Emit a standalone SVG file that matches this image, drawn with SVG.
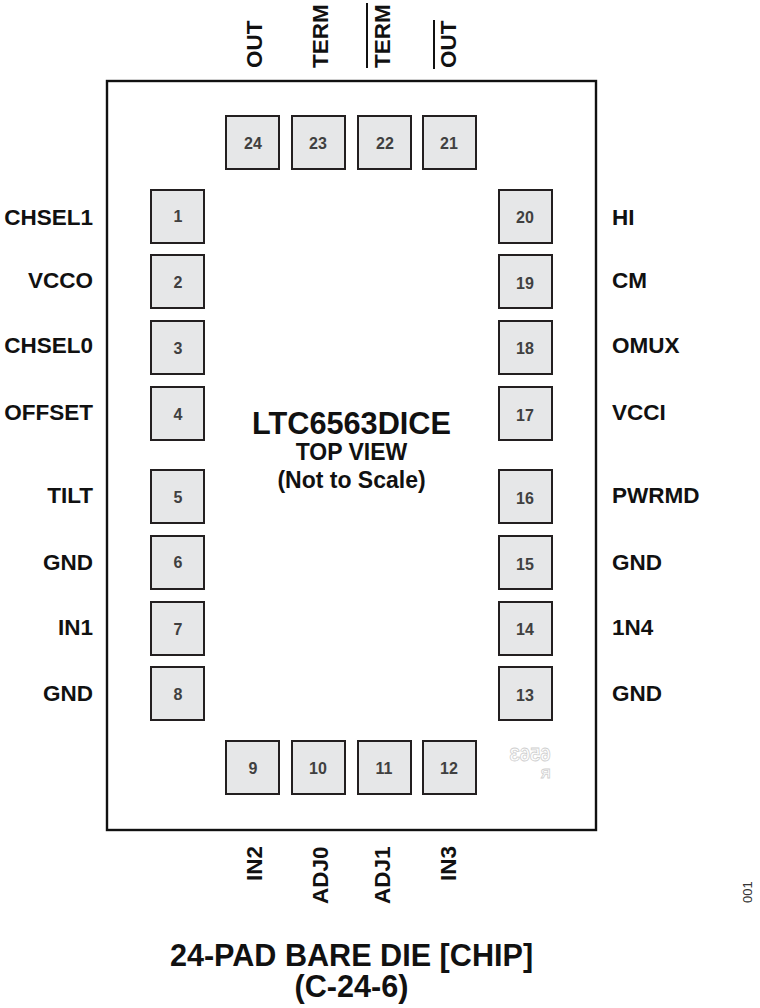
<svg xmlns="http://www.w3.org/2000/svg" width="760" height="1008" viewBox="0 0 760 1008">
<style>
text{font-family:"Liberation Sans",Arial,sans-serif;font-weight:bold}
.pad{fill:#e6e7e8;stroke:#231f20;stroke-width:2}
.num{font-size:16px;fill:#404040;text-anchor:middle}
.lab{font-size:22.5px;fill:#111}
.l{text-anchor:end}
.c{font-size:23px;fill:#111;text-anchor:middle}
.bar{stroke:#111;stroke-width:2}
.mark{font-size:18.500px;fill:#fff;stroke:#cfcfcf;stroke-width:.8}
</style>
<rect id="die" x="107" y="81" width="489" height="749" fill="#fff" stroke="#111" stroke-width="2.4"/>
<g id="connectors"></g>
<g id="pad1"><rect class="pad" x="151" y="190" width="53" height="53"/><text class="num" x="178" y="222">1</text><text class="lab l" x="93" y="225">CHSEL1</text></g>
<g id="pad2"><rect class="pad" x="151" y="255" width="53" height="53"/><text class="num" x="178" y="288">2</text><text class="lab l" x="93" y="288">VCCO</text></g>
<g id="pad3"><rect class="pad" x="151" y="321" width="53" height="53"/><text class="num" x="178" y="354">3</text><text class="lab l" x="93" y="353">CHSEL0</text></g>
<g id="pad4"><rect class="pad" x="151" y="387" width="53" height="53"/><text class="num" x="178" y="420">4</text><text class="lab l" x="93" y="420">OFFSET</text></g>
<g id="pad5"><rect class="pad" x="151" y="470" width="53" height="53"/><text class="num" x="178" y="503">5</text><text class="lab l" x="93" y="503">TILT</text></g>
<g id="pad6"><rect class="pad" x="151" y="536" width="53" height="53"/><text class="num" x="178" y="568">6</text><text class="lab l" x="93" y="570">GND</text></g>
<g id="pad7"><rect class="pad" x="151" y="602" width="53" height="53"/><text class="num" x="178" y="635">7</text><text class="lab l" x="93" y="635">IN1</text></g>
<g id="pad8"><rect class="pad" x="151" y="667" width="53" height="53"/><text class="num" x="178" y="700">8</text><text class="lab l" x="93" y="701">GND</text></g>
<g id="pad9"><rect class="pad" x="226" y="741" width="53" height="53"/><text class="num" x="253" y="774">9</text><text class="lab" transform="translate(262 881) rotate(-90)">IN2</text></g>
<g id="pad10"><rect class="pad" x="292" y="741" width="53" height="53"/><text class="num" x="318" y="774">10</text><text class="lab" transform="translate(328 904) rotate(-90)">ADJ0</text></g>
<g id="pad11"><rect class="pad" x="358" y="741" width="53" height="53"/><text class="num" x="384" y="774">11</text><text class="lab" transform="translate(390 904) rotate(-90)">ADJ1</text></g>
<g id="pad12"><rect class="pad" x="423" y="741" width="53" height="53"/><text class="num" x="449" y="774">12</text><text class="lab" transform="translate(456 881) rotate(-90)">IN3</text></g>
<g id="pad13"><rect class="pad" x="499" y="667" width="53" height="53"/><text class="num" x="525" y="701">13</text><text class="lab" x="612" y="701">GND</text></g>
<g id="pad14"><rect class="pad" x="499" y="602" width="53" height="53"/><text class="num" x="525" y="635">14</text><text class="lab" x="612" y="635">1N4</text></g>
<g id="pad15"><rect class="pad" x="499" y="536" width="53" height="53"/><text class="num" x="525" y="570">15</text><text class="lab" x="612" y="570">GND</text></g>
<g id="pad16"><rect class="pad" x="499" y="470" width="53" height="53"/><text class="num" x="525" y="504">16</text><text class="lab" x="612" y="503">PWRMD</text></g>
<g id="pad17"><rect class="pad" x="499" y="387" width="53" height="53"/><text class="num" x="525" y="421">17</text><text class="lab" x="612" y="420">VCCI</text></g>
<g id="pad18"><rect class="pad" x="499" y="321" width="53" height="53"/><text class="num" x="525" y="354">18</text><text class="lab" x="612" y="353">OMUX</text></g>
<g id="pad19"><rect class="pad" x="499" y="255" width="53" height="53"/><text class="num" x="525" y="289">19</text><text class="lab" x="612" y="288">CM</text></g>
<g id="pad20"><rect class="pad" x="499" y="190" width="53" height="53"/><text class="num" x="525" y="223">20</text><text class="lab" x="612" y="225">HI</text></g>
<g id="pad21"><rect class="pad" x="423" y="116" width="53" height="53"/><text class="num" x="449" y="149">21</text><text class="lab" transform="translate(456 68) rotate(-90)">OUT</text><line class="bar" x1="434" y1="20" x2="434" y2="69"/></g>
<g id="pad22"><rect class="pad" x="358" y="116" width="53" height="53"/><text class="num" x="385" y="149">22</text><text class="lab" transform="translate(390 68) rotate(-90)">TERM</text><line class="bar" x1="367" y1="3" x2="367" y2="68"/></g>
<g id="pad23"><rect class="pad" x="292" y="116" width="53" height="53"/><text class="num" x="318" y="149">23</text><text class="lab" transform="translate(328 68) rotate(-90)">TERM</text></g>
<g id="pad24"><rect class="pad" x="226" y="116" width="53" height="53"/><text class="num" x="253" y="149">24</text><text class="lab" transform="translate(262 68) rotate(-90)">OUT</text></g>
<text x="351.500" y="434" text-anchor="middle" font-size="30.700" fill="#111">LTC6563DICE</text>
<text class="c" x="351.500" y="460">TOP VIEW</text>
<text class="c" x="351.500" y="488">(Not to Scale)</text>
<text class="mark" transform="translate(550.500 761) scale(-1 1)">6563</text>
<text class="mark" transform="translate(550.500 777.500) scale(-1 1)" style="font-size:13.500px">R</text>
<text transform="translate(752 903) rotate(-90)" font-size="13" fill="#333" style="font-weight:normal">001</text>
<text x="351.500" y="966" text-anchor="middle" font-size="30.600" fill="#111">24-PAD BARE DIE [CHIP]</text>
<text x="351.500" y="997" text-anchor="middle" font-size="30.600" fill="#111">(C-24-6)</text>
</svg>
